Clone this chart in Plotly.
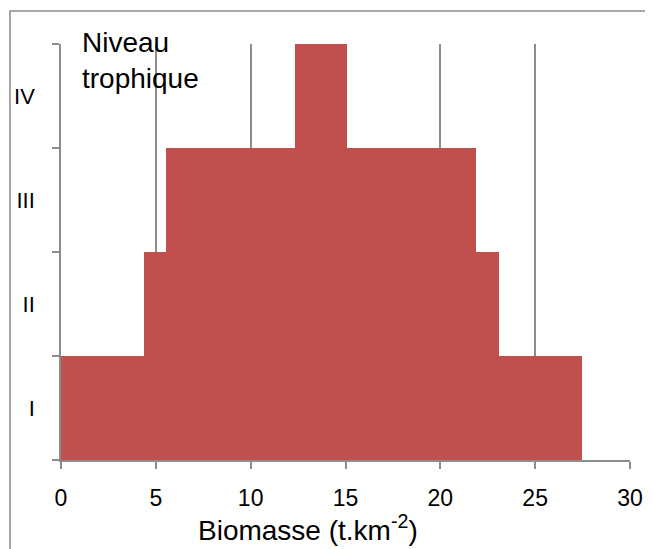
import plotly.graph_objects as go

levels = ["I", "II", "III", "IV"]
offset = [0, 4.35, 5.55, 12.35]
biomass = [27.45, 18.75, 16.35, 2.75]
x_ticks = [0, 5, 10, 15, 20, 25, 30]

BAR = "#C0504D"
GRID = "#8C8C8C"
FONT = "Liberation Sans, Arial, sans-serif"

fig = go.Figure()
fig.add_trace(go.Bar(y=levels, x=offset, orientation="h",
                     marker=dict(color="rgba(0,0,0,0)", line=dict(width=0)),
                     hoverinfo="skip", showlegend=False))
fig.add_trace(go.Bar(y=levels, x=biomass, orientation="h",
                     marker=dict(color=BAR, line=dict(width=0)),
                     showlegend=False))

OFF = 8  # default page body margin
W, H = 653 - OFF, 549 - OFF
# plot area in page pixels: x 61..630, y 44..460
L, T = 61 - OFF, 44 - OFF
R = W - (630 - OFF)
B = H - (460 - OFF)
pw, ph = W - L - R, H - T - B

def px(x):
    return (x - OFF - L) / pw

def py(y):
    return (H - B - (y - OFF)) / ph

fig.update_layout(
    width=W, height=H, barmode="stack", bargap=0,
    margin=dict(l=L, r=R, t=T, b=B, pad=0, autoexpand=False),
    paper_bgcolor="white", plot_bgcolor="white",
    font=dict(family=FONT, color="black"),
    xaxis=dict(range=[0, 30], tickvals=x_ticks, showgrid=True, gridcolor=GRID,
               gridwidth=1.5, zeroline=False, showline=True, linecolor=GRID,
               linewidth=1.5, ticks="outside", ticklen=7, tickcolor=GRID,
               tickwidth=1.5, tickfont=dict(size=23), ticklabelstandoff=10,
               automargin=False),
    yaxis=dict(type="category", categoryorder="array", categoryarray=levels,
               range=[-0.5, 3.5], tickson="boundaries", showgrid=False,
               zeroline=False, showline=True, linecolor=GRID, linewidth=1.5,
               ticks="outside", ticklen=7, tickcolor=GRID, tickwidth=1.5,
               tickfont=dict(size=22), ticklabelstandoff=20,
               automargin=False),
    annotations=[
        dict(text="Niveau<br>trophique", xref="paper", yref="paper",
             x=px(80), y=py(25), xanchor="left", yanchor="top",
             align="left", showarrow=False, font=dict(size=28)),
        dict(text="Biomasse (t.km<sup>-2</sup>)", xref="paper", yref="paper",
             x=px(308), y=py(508), xanchor="center", yanchor="top",
             showarrow=False, font=dict(size=28)),
    ],
    shapes=[dict(type="rect", xref="paper", yref="paper",
                 x0=px(10), x1=px(665), y0=py(560), y1=py(11),
                 line=dict(color=GRID, width=1.5), fillcolor="rgba(0,0,0,0)",
                 layer="above")],
)

fig.write_html("out.html")
